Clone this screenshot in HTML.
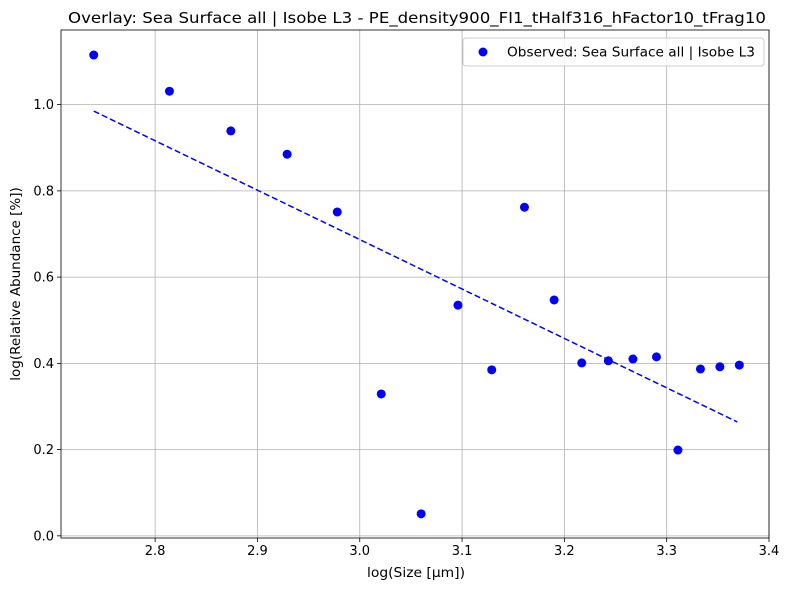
<!DOCTYPE html>
<html><head><meta charset="utf-8"><style>
body{margin:0;background:#fff;font-family:"Liberation Sans","DejaVu Sans",sans-serif;}
</style></head><body>
<svg id="chart" width="789" height="590" xmlns="http://www.w3.org/2000/svg" font-family="DejaVu Sans, Liberation Sans, sans-serif"></svg>
<script>
const xs=[2.740,2.814,2.874,2.929,2.978,3.021,3.060,3.096,3.129,3.161,3.190,3.217,3.243,3.267,3.290,3.311,3.333,3.352,3.371];
const ys=[1.115,1.031,0.939,0.885,0.751,0.329,0.051,0.535,0.385,0.762,0.547,0.401,0.406,0.410,0.415,0.199,0.387,0.392,0.396];
const xTicks=[2.8,2.9,3.0,3.1,3.2,3.3,3.4];
const xTickLabels=["2.8","2.9","3.0","3.1","3.2","3.3","3.4"];
const yTicks=[0,0.2,0.4,0.6,0.8,1.0];
const yTickLabels=["0.0","0.2","0.4","0.6","0.8","1.0"];
const fitSlope=[-1.146];
const fitIntercept=[4.125];
const fitRange=[2.740,3.369];

const L=61,R=769,T=30,B=538;
const xmin=2.708,xmax=3.400,ymin=-0.005,ymax=1.173;
const sx=v=>L+(v-xmin)/(xmax-xmin)*(R-L);
const sy=v=>B-(v-ymin)/(ymax-ymin)*(B-T);
const svg=document.getElementById('chart');
const NS='http://www.w3.org/2000/svg';
function mk(tag,attrs,parent){const e=document.createElementNS(NS,tag);for(const k in attrs)e.setAttribute(k,attrs[k]);(parent||svg).appendChild(e);return e;}

xTicks.forEach((t,i)=>{
 const g=mk('line',{x1:sx(t),x2:sx(t),y1:T,y2:B,stroke:'#b0b0b0','stroke-width':0.8});
 
 
 mk('line',{x1:sx(t),x2:sx(t),y1:B,y2:B+4,stroke:'#000','stroke-width':0.8});
 const tx=mk('text',{x:sx(t),y:B+17,'text-anchor':'middle','font-size':13});
 tx.textContent=xTickLabels[i];
 
 
});
yTicks.forEach((t,i)=>{
 const g=mk('line',{x1:L,x2:R,y1:sy(t),y2:sy(t),stroke:'#b0b0b0','stroke-width':0.8});
 
 
 mk('line',{x1:L-4,x2:L,y1:sy(t),y2:sy(t),stroke:'#000','stroke-width':0.8});
 const tx=mk('text',{x:L-7,y:sy(t)+4.5,'text-anchor':'end','font-size':13});
 tx.textContent=yTickLabels[i];
 
 
});

const fl=mk('line',{x1:sx(fitRange[0]),y1:sy(fitSlope[0]*fitRange[0]+fitIntercept[0]),x2:sx(fitRange[1]),y2:sy(fitSlope[0]*fitRange[1]+fitIntercept[0]),stroke:'#0000ff','stroke-width':1.5,'stroke-dasharray':'6,3'});



xs.forEach((x,i)=>{
 const c=mk('circle',{cx:sx(x),cy:sy(ys[i]),r:4.5,fill:'#0000ff'});
 
 
});

const fr=mk('rect',{x:L,y:T,width:R-L,height:B-T,fill:'none',stroke:'#000','stroke-width':0.8});



const title=mk('text',{x:(L+R)/2+2,y:23,'text-anchor':'middle','font-size':15.5,textLength:698,lengthAdjust:'spacingAndGlyphs'});
title.textContent='Overlay: Sea Surface all | Isobe L3 - PE_density900_FI1_tHalf316_hFactor10_tFrag10';



const xl=mk('text',{x:416,y:577,'text-anchor':'middle','font-size':13.5,textLength:98,lengthAdjust:'spacingAndGlyphs'});
xl.textContent='log(Size [µm])';



const yl=mk('text',{x:20,y:(T+B)/2,'text-anchor':'middle','font-size':13.5,transform:'rotate(-90 20 '+((T+B)/2)+')'});
yl.textContent='log(Relative Abundance [%])';



const lg=mk('g',{});


mk('rect',{x:463,y:38,width:301,height:28,rx:3,fill:'#fff','fill-opacity':0.8,stroke:'#ccc'},lg);
mk('circle',{cx:483,cy:52,r:4.5,fill:'#0000ff'},lg);
const lt=mk('text',{x:507,y:56.5,'font-size':13.5,textLength:248,lengthAdjust:'spacingAndGlyphs'},lg);
lt.textContent='Observed: Sea Surface all | Isobe L3';


</script>
</body></html>
